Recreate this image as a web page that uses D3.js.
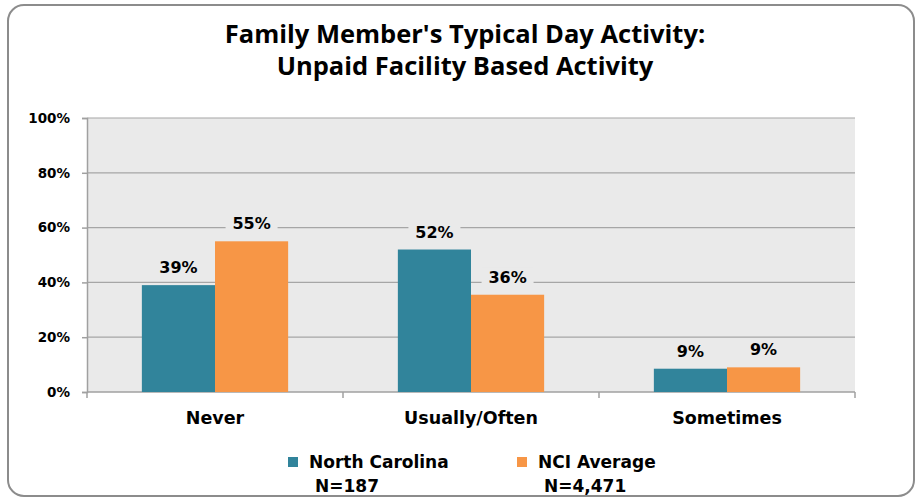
<html>
<head>
<meta charset="UTF-8">
<title>Unpaid Facility Based Activity</title>
<script src="https://cdn.jsdelivr.net/npm/d3@7"></script>
<style>
  body { margin: 0; padding: 0; background: #fff; }
  text { font-family: "DejaVu Sans", Verdana, sans-serif; font-weight: bold; fill: #000; }
  .title { font-family: "Open Sans", sans-serif; font-size: 25.5px; }
</style>
</head>
<body>
<script>
var w = 919, h = 501;

// data
var categories = ["Never", "Usually/Often", "Sometimes"];
var seriesNames = ["North Carolina", "NCI Average"];
var seriesN = ["N=187", "N=4,471"];
var ncValues = [39, 52, 8.5];
var nciValues = [55, 35.5, 9];
var yTicks = [0, 20, 40, 60, 80, 100];
var colors = ["#31849b", "#f79646"];

var margin = { left: 87, right: 64, top: 118, bottom: 109 };
var plotW = w - margin.left - margin.right,
    plotH = h - margin.top - margin.bottom;

var svg = d3.select("body").append("svg")
  .attr("width", w)
  .attr("height", h);

// outer frame
svg.append("rect")
  .attr("x", 8).attr("y", 5)
  .attr("width", 906).attr("height", 491)
  .attr("rx", 16)
  .attr("fill", "#fff")
  .attr("stroke", "#8c8c8c")
  .attr("stroke-width", 2);

svg.append("text").attr("class", "title")
  .attr("x", 465).attr("y", 43)
  .attr("text-anchor", "middle")
  .text("Family Member's Typical Day Activity:");
svg.append("text").attr("class", "title")
  .attr("x", 465).attr("y", 75)
  .attr("text-anchor", "middle")
  .text("Unpaid Facility Based Activity");

var g = svg.append("g").attr("transform", "translate(" + margin.left + "," + margin.top + ")");

var x0 = d3.scaleBand().domain(categories).range([0, plotW]).paddingInner(0).paddingOuter(0);
var x1 = d3.scaleBand().domain([0, 1]).range([0, x0.bandwidth()]).paddingInner(0).paddingOuter(0.75);
var y = d3.scaleLinear().domain([0, 100]).range([plotH, 0]);

g.append("rect")
  .attr("width", plotW).attr("height", plotH)
  .attr("fill", "#eaeaea");

// gridlines
g.selectAll(".grid").data(yTicks.slice(1)).enter().append("line")
  .attr("x1", 0).attr("x2", plotW)
  .attr("y1", function(d) { return y(d); })
  .attr("y2", function(d) { return y(d); })
  .attr("stroke", "#a6a6a6").attr("stroke-width", 1.2);

// y axis
var yAxis = g.append("g")
  .call(d3.axisLeft(y).tickValues(yTicks).tickFormat(function(d) { return d + "%"; }).tickSize(5).tickPadding(12));
yAxis.select(".domain").attr("stroke", "#a0a0a0").attr("stroke-width", 1.5);
yAxis.selectAll(".tick line").attr("stroke", "#a0a0a0").attr("stroke-width", 1.5);
yAxis.selectAll("text").attr("font-size", 13.5).attr("font-family", null);

// x axis
var xAxisG = g.append("g").attr("transform", "translate(0," + plotH + ")");
xAxisG.append("line").attr("x1", 0).attr("x2", plotW)
  .attr("stroke", "#a0a0a0").attr("stroke-width", 1.5);
xAxisG.selectAll(".sep").data(d3.range(categories.length + 1)).enter().append("line")
  .attr("x1", function(i) { return i * x0.bandwidth(); })
  .attr("x2", function(i) { return i * x0.bandwidth(); })
  .attr("y1", 0).attr("y2", 6)
  .attr("stroke", "#a0a0a0").attr("stroke-width", 1.5);
xAxisG.selectAll(".cat").data(categories).enter().append("text")
  .attr("x", function(d) { return x0(d) + x0.bandwidth() / 2; })
  .attr("y", 32)
  .attr("text-anchor", "middle")
  .attr("font-size", 17.5)
  .text(function(d) { return d; });

// bars
var rows = categories.map(function(c, i) { return { cat: c, vals: [ncValues[i], nciValues[i]] }; });
var groups = g.selectAll(".grp").data(rows).enter().append("g")
  .attr("transform", function(d) { return "translate(" + x0(d.cat) + ",0)"; });

groups.selectAll("rect").data(function(d) { return d.vals; }).enter().append("rect")
  .attr("x", function(d, i) { return x1(i); })
  .attr("width", x1.bandwidth())
  .attr("y", function(d) { return y(d); })
  .attr("height", function(d) { return plotH - y(d); })
  .attr("fill", function(d, i) { return colors[i]; });

// value labels with background to cut gridlines
groups.each(function(d) {
  var grp = d3.select(this);
  d.vals.forEach(function(v, i) {
    var cx = x1(i) + x1.bandwidth() / 2;
    var ty = y(v) - 12;
    grp.append("rect")
      .attr("x", cx - 26).attr("y", ty - 15)
      .attr("width", 52).attr("height", 20)
      .attr("fill", "#eaeaea");
    grp.append("text")
      .attr("x", cx).attr("y", ty)
      .attr("text-anchor", "middle")
      .attr("font-size", 16)
      .text(Math.round(v) + "%");
  });
});

// legend
var legendX = [288, 517];
seriesNames.forEach(function(name, i) {
  svg.append("rect")
    .attr("x", legendX[i]).attr("y", 457)
    .attr("width", 10).attr("height", 10)
    .attr("fill", colors[i]);
  svg.append("text")
    .attr("x", legendX[i] + 21).attr("y", 468)
    .attr("font-size", 17)
    .text(name);
  svg.append("text")
    .attr("x", legendX[i] + 27).attr("y", 492)
    .attr("font-size", 17)
    .text(seriesN[i]);
});
</script>
</body>
</html>
